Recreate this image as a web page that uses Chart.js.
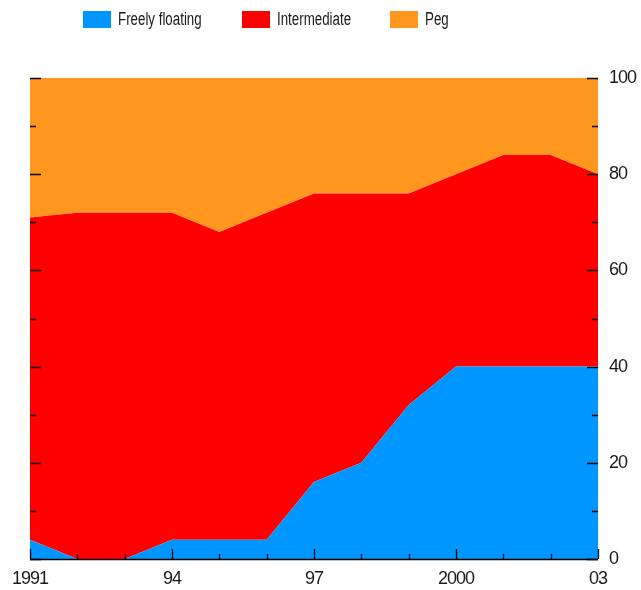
<!DOCTYPE html>
<html>
<head>
<meta charset="utf-8">
<script src="https://cdn.jsdelivr.net/npm/chart.js@4/dist/chart.umd.min.js"></script>
<style>
html,body{margin:0;padding:0;background:#fff;}
#wrap{width:641px;height:590px;position:relative;}
</style>
</head>
<body>
<div id="wrap"><canvas id="c" width="641" height="590"></canvas></div>
<script>
// ---- data ----
const years = [1991,1992,1993,1994,1995,1996,1997,1998,1999,2000,2001,2002,2003];
const tickLabels = ['1991','','','94','','','97','','','2000','','','03'];
const seriesNames = ['Freely floating','Intermediate','Peg'];
const freelyFloating = [4,0,0,4,4,4,16,20,32,40,40,40,40];
const intermediate  = [67,72,72,68,64,68,60,56,44,40,44,44,40];
const peg           = [29,28,28,28,32,28,24,24,24,20,16,16,20];
const yTicks = [0,20,40,60,80,100];

const colors = ['rgb(0,150,255)','rgb(255,0,0)','rgb(255,150,30)'];
const FONT = "'Liberation Sans','Arial',sans-serif";

const spacingPlugin = {
  id:'narrowText',
  beforeDraw(chart){ try { chart.ctx.letterSpacing = '-1px'; } catch(e){} }
};

const tickPlugin = {
  id:'innerTicks',
  afterDatasetsDraw(chart){
    const ctx = chart.ctx, x = chart.scales.x, y = chart.scales.y, a = chart.chartArea;
    ctx.save();
    ctx.strokeStyle = '#000';
    ctx.lineWidth = 1.3;
    ctx.beginPath();
    for (let v = 0; v <= 100; v += 10){
      const py = Math.round(y.getPixelForValue(v)) + 0.5;
      const len = (v % 20 === 0) ? 11 : 6;
      ctx.moveTo(a.left, py); ctx.lineTo(a.left + len, py);
      ctx.moveTo(a.right, py); ctx.lineTo(a.right - len, py);
    }
    years.forEach((yr, i) => {
      const px = Math.round(x.getPixelForValue(i)) + 0.5;
      const len = tickLabels[i] !== '' ? 10 : 5;
      ctx.moveTo(px, a.bottom); ctx.lineTo(px, a.bottom - len);
    });
    ctx.stroke();
    ctx.lineWidth = 1.6;
    ctx.beginPath();
    ctx.moveTo(a.left, a.bottom + 0.5); ctx.lineTo(a.right, a.bottom + 0.5);
    ctx.stroke();
    ctx.restore();
  }
};

const legendPlugin = {
  id:'topLegend',
  afterDraw(chart){
    const ctx = chart.ctx;
    const boxX = [83, 242, 390];
    const sx = 0.74;
    ctx.save();
    try { ctx.letterSpacing = '0px'; } catch(e){}
    ctx.font = "18px " + FONT;
    ctx.textBaseline = 'middle';
    ctx.textAlign = 'left';
    chart.data.datasets.forEach((ds, i) => {
      ctx.fillStyle = ds.backgroundColor;
      ctx.fillRect(boxX[i], 11, 28, 17);
      ctx.fillStyle = '#1a1a1a';
      ctx.save();
      ctx.translate(boxX[i] + 35, 20.5);
      ctx.scale(sx, 1);
      ctx.fillText(ds.label, 0, 0);
      ctx.restore();
    });
    ctx.restore();
  }
};

const datasets = [freelyFloating, intermediate, peg].map((d, i) => ({
  label: seriesNames[i],
  data: d,
  backgroundColor: colors[i],
  borderWidth: 0,
  borderColor: colors[i],
  pointRadius: 0,
  tension: 0,
  fill: i === 0 ? 'origin' : '-1'
}));

new Chart(document.getElementById('c'), {
  type: 'line',
  data: { labels: years.map(String), datasets },
  plugins: [spacingPlugin, tickPlugin, legendPlugin],
  options: {
    responsive: false,
    animation: false,
    devicePixelRatio: 1,
    layout: { padding: { top: 78, left: 30, right: 0, bottom: 0 } },
    plugins: { legend: { display: false }, tooltip: { enabled: false } },
    elements: { line: { borderWidth: 0 } },
    scales: {
      x: {
        type: 'category',
        offset: false,
        grid: { display: false, drawTicks: false },
        border: { display: false },
        afterFit: s => { s.height = 31; },
        ticks: {
          autoSkip: false, maxRotation: 0, minRotation: 0,
          padding: 9,
          color: '#1a1a1a',
          font: { size: 18, family: FONT },
          callback: (v, i) => tickLabels[i]
        }
      },
      y: {
        position: 'right',
        stacked: true,
        min: 0, max: 100,
        grid: { display: false, drawTicks: false },
        border: { display: false },
        afterFit: s => { s.width = 43; },
        afterBuildTicks: s => { s.ticks = yTicks.map(v => ({ value: v })); },
        ticks: {
          padding: 11,
          color: '#1a1a1a',
          font: { size: 18, family: FONT }
        }
      }
    }
  }
});
</script>
</body>
</html>
